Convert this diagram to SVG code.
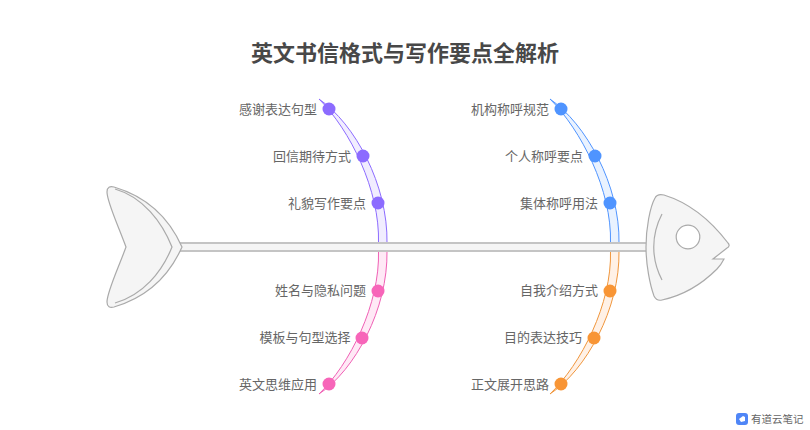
<svg xmlns="http://www.w3.org/2000/svg" width="810" height="430" viewBox="0 0 810 430">
<style>
text{font-family:"Noto Sans CJK SC","Noto Sans",sans-serif;fill:#666;font-size:13px}
.l{text-anchor:end}
.title{font-size:22px;font-weight:700;fill:#484848;text-anchor:middle}
.body{fill:#f5f5f5;stroke:#aaa;stroke-width:1.2}
.line{fill:none;stroke:#aaa;stroke-width:1.2}
.spine{fill:#f5f5f5;stroke:#c4c4c4;stroke-width:2}
.bone{stroke-width:1}
.p{fill:#8c6bff}.b{fill:#4f94ff}.k{fill:#f765b9}.o{fill:#f89535}
</style>
<rect width="810" height="430" fill="#fff"/>
<text class="title" x="405" y="61">英文书信格式与写作要点全解析</text>
<g id="connectors">
<path class="bone" fill="#f1edff" stroke="#8c6bff" d="M319,99C355,124 388,185 387,243L378.5,243C380,190 350,130 319,99Z"/>
<path class="bone" fill="#ffe9f6" stroke="#f060b5" d="M319,394C355,370 388,309 387,251L378.5,251C380,304 350,364 319,394Z"/>
<path class="bone" fill="#e9f2ff" stroke="#4f94ff" d="M550,99C586,124 620,185 619,243L610.5,243C612,190 581,130 550,99Z"/>
<path class="bone" fill="#fff1e6" stroke="#f0963c" d="M550,394C586,370 620,309 619,251L610.5,251C612,304 581,364 550,394Z"/>
<rect class="spine" x="178" y="243" width="470" height="8"/>
</g>
<g id="tail">
<path class="body" d="M126,247C118,225 107,202 107,192C107,187 110,186 114,187C148,197 170,220 182,247C170,274 148,297 114,307C110,308 107,307 107,302C107,292 118,269 126,247Z"/>
<path class="line" d="M115,189C143,197 162,222 172,247C162,272 143,295 115,303"/>
</g>
<g id="head">
<path class="body" d="M646,247C646,228 650,207 655,198C657,194 660,194 664,195C690,203 712,222 728,243C730,245 729,247 727,248L713,259L724,259C722,263 720,266 717,269C702,284 685,295 662,300C658,301 656,300 654,296C650,285 646,265 646,247Z"/>
<path class="line" d="M662,214C651,235 651,259 662,280"/>
<circle cx="688" cy="237" r="11.8" fill="#fff" stroke="#aaa" stroke-width="1.2"/>
</g>
<g id="n1"><circle class="p" cx="329" cy="109" r="6.5"/><text class="l" x="317" y="114">感谢表达句型</text></g>
<g id="n2"><circle class="p" cx="363" cy="156" r="6.5"/><text class="l" x="351" y="161">回信期待方式</text></g>
<g id="n3"><circle class="p" cx="378" cy="203" r="6.5"/><text class="l" x="366" y="208">礼貌写作要点</text></g>
<g id="n4"><circle class="k" cx="378" cy="291" r="6.5"/><text class="l" x="366" y="295">姓名与隐私问题</text></g>
<g id="n5"><circle class="k" cx="362" cy="338" r="6.5"/><text class="l" x="350.5" y="342">模板与句型选择</text></g>
<g id="n6"><circle class="k" cx="329" cy="384" r="6.5"/><text class="l" x="317" y="389">英文思维应用</text></g>
<g id="n7"><circle class="b" cx="561" cy="109" r="6.5"/><text class="l" x="549" y="114">机构称呼规范</text></g>
<g id="n8"><circle class="b" cx="595" cy="156" r="6.5"/><text class="l" x="583" y="161">个人称呼要点</text></g>
<g id="n9"><circle class="b" cx="610" cy="203" r="6.5"/><text class="l" x="598" y="208">集体称呼用法</text></g>
<g id="n10"><circle class="o" cx="610" cy="291" r="6.5"/><text class="l" x="598" y="295">自我介绍方式</text></g>
<g id="n11"><circle class="o" cx="594" cy="338" r="6.5"/><text class="l" x="582" y="342">目的表达技巧</text></g>
<g id="n12"><circle class="o" cx="561" cy="384" r="6.5"/><text class="l" x="549" y="389">正文展开思路</text></g>
<g id="logo">
<rect x="736" y="413" width="12" height="12" rx="3" fill="#4f86f7"/>
<path d="M739,419L743,416L745,417L745,421L741,422Z" fill="#fff"/>
<text x="751" y="423" style="font-size:10.5px">有道云笔记</text>
</g>
</svg>
